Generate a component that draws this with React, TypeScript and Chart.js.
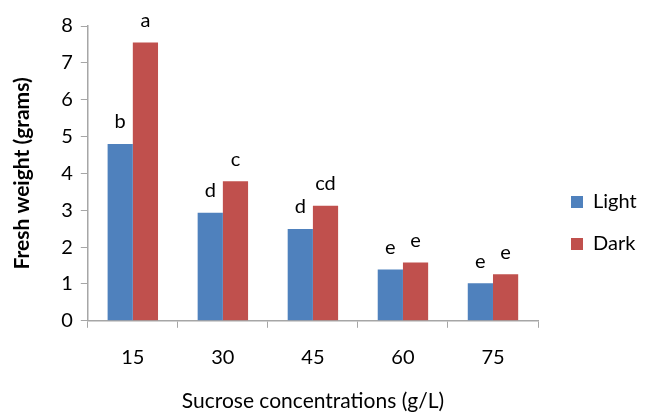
import React, { useEffect, useRef } from "react";
import { Chart, registerables } from "chart.js";

Chart.register(...registerables);

const categories = ["15", "30", "45", "60", "75"];
const lightValues = [4.8, 2.93, 2.49, 1.39, 1.02];
const darkValues = [7.55, 3.79, 3.12, 1.58, 1.26];
const lightLetters = ["b", "d", "d", "e", "e"];
const darkLetters = ["a", "c", "cd", "e", "e"];
const seriesNames = ["Light", "Dark"];
const yTitle = "Fresh weight (grams)";
const xTitle = "Sucrose concentrations (g/L)";

const FONT = "Lato, 'Open Sans', sans-serif";

const letterPlugin = {
  id: "letterPlugin",
  afterDatasetsDraw(chart: any) {
    const ctx = chart.ctx;
    const letterSets = [lightLetters, darkLetters];
    ctx.save();
    ctx.fillStyle = "#000";
    ctx.font = `20px ${FONT}`;
    ctx.textAlign = "center";
    ctx.textBaseline = "bottom";
    chart.data.datasets.forEach((_ds: any, i: number) => {
      const meta = chart.getDatasetMeta(i);
      meta.data.forEach((bar: any, j: number) => {
        ctx.fillText(letterSets[i][j], bar.x, bar.y - 12);
      });
    });
    ctx.restore();
  },
};

// Keep the legend box at a fixed width and nudge where its items are drawn.
const legendTweak = {
  id: "legendTweak",
  afterInit(chart: any) {
    const lg = chart.legend;
    if (!lg || lg.__tweaked) return;
    lg.__tweaked = true;
    const origFit = lg.fit.bind(lg);
    lg.fit = function () {
      origFit();
      this.width = 108;
    };
    const origDraw = lg.draw.bind(lg);
    lg.draw = function () {
      const ctx = chart.ctx;
      ctx.save();
      ctx.translate(11, 4);
      origDraw();
      ctx.restore();
    };
  },
};

export default function App() {
  const ref = useRef<HTMLCanvasElement>(null);
  useEffect(() => {
    if (!ref.current) return;
    const chart = new Chart(ref.current, {
      type: "bar",
      data: {
        labels: categories,
        datasets: [
          {
            label: seriesNames[0],
            data: lightValues,
            backgroundColor: "#4F81BD",
            categoryPercentage: 0.56,
            barPercentage: 1,
          },
          {
            label: seriesNames[1],
            data: darkValues,
            backgroundColor: "#C0504D",
            categoryPercentage: 0.56,
            barPercentage: 1,
          },
        ],
      },
      options: {
        animation: false,
        responsive: true,
        maintainAspectRatio: false,
        layout: { padding: { top: 16, right: 0, left: 2, bottom: 0 } },
        plugins: {
          tooltip: { enabled: false },
          legend: {
            position: "right",
            labels: {
              boxWidth: 12,
              boxHeight: 12,
              padding: 22,
              color: "#000",
              font: { family: FONT, size: 20 },
            },
          },
        },
        scales: {
          x: {
            grid: {
              display: true,
              drawOnChartArea: false,
              tickLength: 7,
              color: "#a6a6a6",
              offset: true,
            },
            border: { color: "#a6a6a6", width: 1.5 },
            ticks: {
              color: "#000",
              font: { family: FONT, size: 20 },
              padding: 18,
            },
            title: {
              display: true,
              text: xTitle,
              color: "#000",
              font: { family: FONT, size: 21 },
              padding: { top: 1, bottom: 0 },
            },
          },
          y: {
            min: 0,
            max: 8,
            grid: {
              display: true,
              drawOnChartArea: false,
              tickLength: 7,
              color: "#a6a6a6",
            },
            border: { color: "#a6a6a6", width: 1.5 },
            ticks: {
              stepSize: 1,
              color: "#000",
              font: { family: FONT, size: 20, lineHeight: 1 },
              padding: 8,
            },
            title: {
              display: true,
              text: yTitle,
              color: "#000",
              font: { family: FONT, size: 21, weight: "bold" },
              padding: { top: 0, bottom: 18 },
            },
          },
        },
      },
      plugins: [letterPlugin, legendTweak],
    } as any);
    return () => chart.destroy();
  }, []);
  return (
    <div style={{ width: 638, height: 406, position: "relative" }}>
      <canvas ref={ref} />
    </div>
  );
}
